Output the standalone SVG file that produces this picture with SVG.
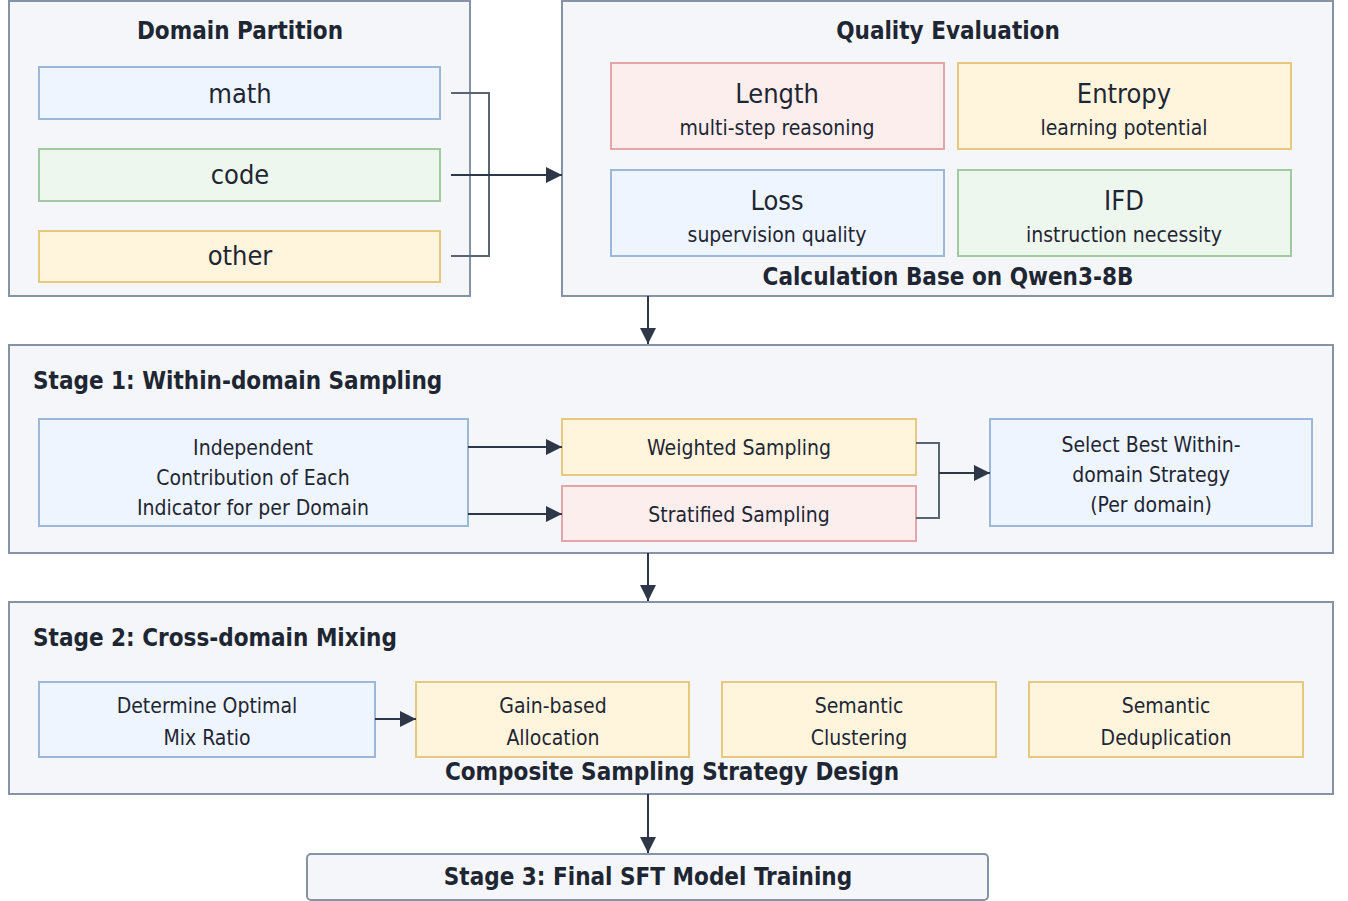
<svg xmlns="http://www.w3.org/2000/svg" width="1348" height="901" viewBox="0 0 1348 901">
<defs>
<marker id="ah" viewBox="0 0 16 16" markerWidth="16" markerHeight="16" markerUnits="userSpaceOnUse" refX="16" refY="8" orient="auto">
<path d="M0,0 L16,8 L0,16 z" fill="#2d3748"/>
</marker>
</defs>
<style>
text{font-family:"DejaVu Sans Condensed","DejaVu Sans",sans-serif;fill:#1f2633;}
.panel{fill:#f5f6fa;stroke:#8593a5;stroke-width:2;}
.blue{fill:#eef5fe;stroke:#9bb8d8;stroke-width:2;}
.green{fill:#eef7ee;stroke:#a0cba0;stroke-width:2;}
.yellow{fill:#fff5dd;stroke:#e6c97f;stroke-width:2;}
.red{fill:#fdeeee;stroke:#e3a5a8;stroke-width:2;}
.title{font-size:24px;font-weight:bold;}
.big{font-size:27px;}
.sub{font-size:21px;}
.body{font-size:21px;}
.mid{text-anchor:middle;}
.br{fill:none;stroke:#5a6573;stroke-width:2;}
.ar{fill:none;stroke:#2d3748;stroke-width:2;marker-end:url(#ah);}
</style>
<rect width="1348" height="901" fill="#ffffff"/>

<g id="domain-partition">
<rect class="panel" x="9" y="1" width="461" height="295"/>
<text class="title mid" x="240" y="39">Domain Partition</text>
</g>
<g id="math">
<rect class="blue" x="39" y="67" width="401" height="52"/>
<text class="big mid" x="240" y="103">math</text>
</g>
<g id="code">
<rect class="green" x="39" y="149" width="401" height="52"/>
<text class="big mid" x="240" y="184">code</text>
</g>
<g id="other">
<rect class="yellow" x="39" y="231" width="401" height="51"/>
<text class="big mid" x="240" y="265">other</text>
</g>

<g id="quality-evaluation">
<rect class="panel" x="562" y="1" width="771" height="295"/>
<text class="title mid" x="948" y="39">Quality Evaluation</text>
<text class="title mid" x="948" y="285">Calculation Base on Qwen3-8B</text>
</g>
<g id="length">
<rect class="red" x="611" y="63" width="333" height="86"/>
<text class="big mid" x="777" y="103">Length</text>
<text class="sub mid" x="777" y="135">multi-step reasoning</text>
</g>
<g id="entropy">
<rect class="yellow" x="958" y="63" width="333" height="86"/>
<text class="big mid" x="1124" y="103">Entropy</text>
<text class="sub mid" x="1124" y="135">learning potential</text>
</g>
<g id="loss">
<rect class="blue" x="611" y="170" width="333" height="86"/>
<text class="big mid" x="777" y="210">Loss</text>
<text class="sub mid" x="777" y="242">supervision quality</text>
</g>
<g id="ifd">
<rect class="green" x="958" y="170" width="333" height="86"/>
<text class="big mid" x="1124" y="210">IFD</text>
<text class="sub mid" x="1124" y="242">instruction necessity</text>
</g>

<g id="stage1">
<rect class="panel" x="9" y="345" width="1324" height="208"/>
<text class="title" x="33" y="389">Stage 1: Within-domain Sampling</text>
</g>
<g id="independent">
<rect class="blue" x="39" y="419" width="429" height="107"/>
<text class="body mid" x="253" y="455">Independent</text>
<text class="body mid" x="253" y="485">Contribution of Each</text>
<text class="body mid" x="253" y="515">Indicator for per Domain</text>
</g>
<g id="weighted">
<rect class="yellow" x="562" y="419" width="354" height="56"/>
<text class="body mid" x="739" y="455">Weighted Sampling</text>
</g>
<g id="stratified">
<rect class="red" x="562" y="486" width="354" height="55"/>
<text class="body mid" x="739" y="522">Stratified Sampling</text>
</g>
<g id="select-best">
<rect class="blue" x="990" y="419" width="322" height="107"/>
<text class="body mid" x="1151" y="452">Select Best Within-</text>
<text class="body mid" x="1151" y="482">domain Strategy</text>
<text class="body mid" x="1151" y="512">(Per domain)</text>
</g>

<g id="stage2">
<rect class="panel" x="9" y="602" width="1324" height="192"/>
<text class="title" x="33" y="646">Stage 2: Cross-domain Mixing</text>
<text class="title mid" x="672" y="780">Composite Sampling Strategy Design</text>
</g>
<g id="determine">
<rect class="blue" x="39" y="682" width="336" height="75"/>
<text class="body mid" x="207" y="713">Determine Optimal</text>
<text class="body mid" x="207" y="745">Mix Ratio</text>
</g>
<g id="gain">
<rect class="yellow" x="416" y="682" width="273" height="75"/>
<text class="body mid" x="553" y="713">Gain-based</text>
<text class="body mid" x="553" y="745">Allocation</text>
</g>
<g id="clustering">
<rect class="yellow" x="722" y="682" width="274" height="75"/>
<text class="body mid" x="859" y="713">Semantic</text>
<text class="body mid" x="859" y="745">Clustering</text>
</g>
<g id="dedup">
<rect class="yellow" x="1029" y="682" width="274" height="75"/>
<text class="body mid" x="1166" y="713">Semantic</text>
<text class="body mid" x="1166" y="745">Deduplication</text>
</g>

<g id="stage3">
<rect class="panel" x="307" y="854" width="681" height="46" rx="4"/>
<text class="title mid" x="648" y="885">Stage 3: Final SFT Model Training</text>
</g>

<g id="connectors">
<path class="br" d="M451,93 H489 V256 H451"/>
<path class="ar" d="M451,175 H562"/>
<path class="ar" d="M648,296 V344"/>
<path class="ar" d="M468,447 H562"/>
<path class="ar" d="M468,514 H562"/>
<path class="br" d="M916,443 H939 V518 H916"/>
<path class="ar" d="M939,473 H990"/>
<path class="ar" d="M648,553 V601"/>
<path class="ar" d="M375,719 H416"/>
<path class="ar" d="M648,794 V853"/>
</g>
</svg>
